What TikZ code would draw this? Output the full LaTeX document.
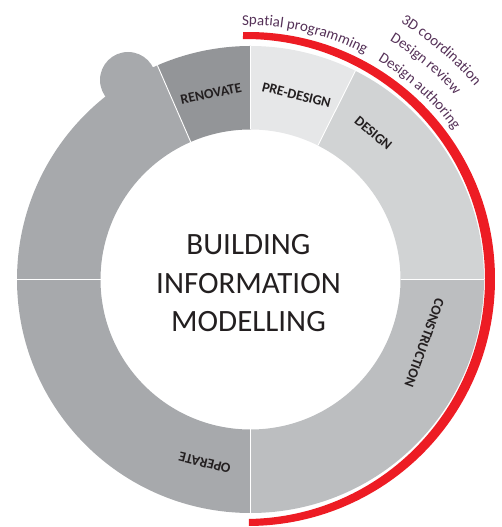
\documentclass[tikz,border=0pt]{standalone}
\usepackage{fontspec}
\setmainfont{Carlito}
\usetikzlibrary{calc,decorations.text}

\definecolor{predesign}{HTML}{E6E7E8}
\definecolor{design}{HTML}{D1D3D4}
\definecolor{construction}{HTML}{BCBEC0}
\definecolor{operate}{HTML}{A7A9AC}
\definecolor{renovate}{HTML}{939598}
\definecolor{redband}{HTML}{ED1C24}
\definecolor{inkdark}{HTML}{231F20}
\definecolor{plum}{HTML}{553158}

\newcommand\ringouter{233.5}
\newcommand\ringinner{150}
\newcommand\arcfont{\fontsize{15}{18}\selectfont}

% annular sector: start angle, end angle, colour
\newcommand\ringsector[3]{%
  \fill[#3] ($(C)+(#1:\ringouter)$) arc[start angle=#1,end angle=#2,radius=\ringouter]
    -- ($(C)+(#2:\ringinner)$) arc[start angle=#2,end angle=#1,radius=\ringinner] -- cycle;}

\begin{document}
\begin{tikzpicture}[x=1pt,y=1pt,
  phase/.style={font=\bfseries\fontsize{14}{16}\selectfont, text=inkdark, inner sep=0pt},
  seam/.style={draw=white, line width=0.9pt},
  arclabel/.style={decorate, decoration={text along path, text color=plum}}]
\useasboundingbox (0,0) rectangle (501,527);
\coordinate (C) at (250.5,247.5);
\coordinate (P) at (246.5,248);

% lifecycle ring
\ringsector{113.5}{180}{operate}
\fill[operate] (128,447) circle[radius=28];
\ringsector{180}{270}{operate}
\ringsector{-90}{0}{construction}
\ringsector{0}{63.3}{design}
\ringsector{63.3}{90}{predesign}
\ringsector{90}{113.5}{renovate}

% white seams between phases
\foreach \a in {0,63.3,90,113.5,180,270}
  \draw[seam] ($(C)+(\a:\ringinner)$) -- ($(C)+(\a:\ringouter)$);

% red band around the BIM phases
\coordinate (O1) at (248,248);
\coordinate (O2) at (245,248);
\fill[redband] ($(O1)+(91.16:247)$) arc[start angle=91.16,end angle=-89.77,radius=247]
  -- ($(O2)+(-89.05:240)$) arc[start angle=-89.05,end angle=90.48,radius=240] -- cycle;

% phase labels
\node[phase, rotate=12]   (renovate) at ($(C)+(102:190)$) {RENOVATE};
\node[phase, rotate=-14]  (predesign) at ($(C)+(76:190)$) {PRE-DESIGN};
\node[phase, rotate=-40]  (design) at ($(C)+(50:191)$) {DESIGN};
\node[phase, rotate=-110] (construction) at ($(C)+(-20:185)$) {CONSTRUCTION};
\node[phase, rotate=166]  (operate) at ($(C)+(-104:189)$) {OPERATE};

% centre title
\node[align=center, font=\fontsize{31}{38.5}\selectfont, text=inkdark] (title)
  at (248.5,243.5) {BUILDING\\INFORMATION\\MODELLING};

% BIM uses along the band
\path[arclabel, decoration={text={|\arcfont|Spatial programming}}]
  ($(P)+(91:254)$) arc[start angle=91,end angle=40,radius=254];
\path[arclabel, decoration={text={|\arcfont|Design authoring}}]
  ($(P)+(59:255)$) arc[start angle=59,end angle=10,radius=255];
\path[arclabel, decoration={text={|\arcfont|Design review}}]
  ($(P)+(59:278)$) arc[start angle=59,end angle=10,radius=278];
\path[arclabel, decoration={text={|\arcfont|3D coordination}}]
  ($(P)+(59:299)$) arc[start angle=59,end angle=10,radius=299];
\end{tikzpicture}
\end{document}
